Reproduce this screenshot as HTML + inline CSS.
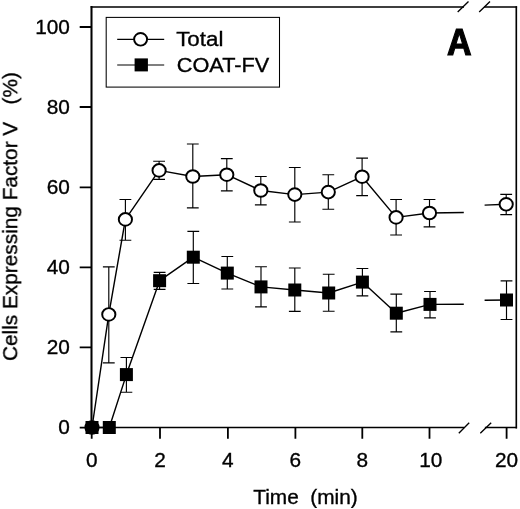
<!DOCTYPE html>
<html lang="en">
<head>
<meta charset="utf-8">
<title>Cells Expressing Factor V over Time</title>
<style>
html,body{margin:0;padding:0;background:#fff;}
body{width:520px;height:509px;overflow:hidden;}
svg{display:block;}
text{font-family:"Liberation Sans",Arial,Helvetica,sans-serif;fill:#000;stroke:#000;stroke-width:0.35px;}
.lbl{font-size:20.8px;white-space:pre;}
</style>
</head>
<body>
<svg width="520" height="509" viewBox="0 0 520 509">
<rect x="0" y="0" width="520" height="509" fill="#ffffff"/>
<defs><filter id="soft" x="0" y="0" width="520" height="509" filterUnits="userSpaceOnUse"><feGaussianBlur stdDeviation="0.32"/></filter></defs>
<g filter="url(#soft)">

<g fill="none" stroke="#000" stroke-linecap="square">
<path stroke-width="1.6" d="M91.5 7H463.2M485 7H516.3"/>
<path stroke-width="1.5" d="M91.5 427.6H463.6M485.6 427.6H516.3"/>
<path stroke-width="2.05" d="M91.5 7V427.6"/>
<path stroke-width="1.65" d="M516.3 7V427.6"/>
</g>
<g fill="none" stroke="#000" stroke-width="1.35">
<path d="M457.7 12L468.5 1.5M479.2 12L490 1.5"/>
<path d="M458.8 433.2L469.2 422.8M480.3 433.2L491.2 422.8"/>
</g>
<g fill="none" stroke="#000" stroke-width="1.8">
<path d="M79.7 27.0H91.5M79.7 107.0H91.5M79.7 187.3H91.5M79.7 267.3H91.5M79.7 347.4H91.5M79.7 427.6H91.5M91.7 427.6V438.8M160.0 427.6V438.8M227.9 427.6V438.8M295.4 427.6V438.8M362.3 427.6V438.8M429.5 427.6V438.8M506.6 427.6V438.8"/>
</g>
<g class="lbl" text-anchor="end">
<text x="69.9" y="33.65">100</text>
<text x="69.9" y="113.65">80</text>
<text x="69.9" y="193.95">60</text>
<text x="69.9" y="273.95">40</text>
<text x="69.9" y="354.05">20</text>
<text x="69.9" y="434.25">0</text>
</g>
<g class="lbl" text-anchor="middle">
<text x="91.7" y="467.25">0</text>
<text x="160.0" y="467.25">2</text>
<text x="227.9" y="467.25">4</text>
<text x="295.4" y="467.25">6</text>
<text x="362.3" y="467.25">8</text>
<text x="430.8" y="467.25">10</text>
<text x="506.6" y="467.25">20</text>
</g>
<text class="lbl" x="253.3" y="503.6" xml:space="preserve">Time  (min)</text>
<text class="lbl" transform="translate(17.2 361) rotate(-90)" x="0" y="0" font-size="20.7" xml:space="preserve">Cells Expressing Factor V   (%)</text>
<text transform="translate(447 55.4) scale(0.94 1)" style="font-size:36.2px;font-weight:bold;stroke-width:1.2px;stroke-linejoin:miter">A</text>
<rect x="106.2" y="17.4" width="173.3" height="69.7" fill="#fff" stroke="#000" stroke-width="1.05"/>
<g stroke="#000" stroke-width="1.15" fill="none"><path d="M117.2 39.3H164.2M117.2 65H164.2"/></g>
<ellipse cx="140.6" cy="39.3" rx="6.5" ry="6.3" fill="#fff" stroke="#000" stroke-width="1.95"/>
<rect x="134.6" y="58.4" width="13.3" height="13" fill="#000"/>
<text class="lbl" transform="translate(176.2 46.4) scale(1.075 1)">Total</text>
<text class="lbl" transform="translate(176.8 72.1) scale(1.044 1)">COAT-FV</text>
<g fill="none" stroke="#000" stroke-width="1.15">

<path d="M108.8 266.9V362.9M102.9 266.9H114.7M102.9 362.9H114.7"/>
<path d="M125.4 199.5V240.2M119.5 199.5H131.3M119.5 240.2H131.3"/>
<path d="M159.1 161.2V179.3M153.2 161.2H165.0M153.2 179.3H165.0"/>
<path d="M192.8 144.0V207.9M186.9 144.0H198.7M186.9 207.9H198.7"/>
<path d="M226.8 158.6V190.8M220.9 158.6H232.7M220.9 190.8H232.7"/>
<path d="M260.8 176.5V204.8M254.9 176.5H266.7M254.9 204.8H266.7"/>
<path d="M294.8 167.5V222.0M288.9 167.5H300.7M288.9 222.0H300.7"/>
<path d="M328.3 174.7V209.2M322.4 174.7H334.2M322.4 209.2H334.2"/>
<path d="M362.1 158.1V195.6M356.2 158.1H368.0M356.2 195.6H368.0"/>
<path d="M396.1 199.5V235.0M390.2 199.5H402.0M390.2 235.0H402.0"/>
<path d="M429.5 199.5V226.8M423.6 199.5H435.4M423.6 226.8H435.4"/>
<path d="M506.2 194.3V214.6M500.3 194.3H512.1M500.3 214.6H512.1"/>


<path d="M126.4 357.5V392.2M120.5 357.5H132.3M120.5 392.2H132.3"/>
<path d="M159.6 272.3V289.4M153.7 272.3H165.5M153.7 289.4H165.5"/>
<path d="M193.3 231.3V283.5M187.4 231.3H199.2M187.4 283.5H199.2"/>
<path d="M227.3 256.5V289.0M221.4 256.5H233.2M221.4 289.0H233.2"/>
<path d="M261.0 266.7V306.8M255.1 266.7H266.9M255.1 306.8H266.9"/>
<path d="M294.8 268.0V311.4M288.9 268.0H300.7M288.9 311.4H300.7"/>
<path d="M328.7 274.2V311.2M322.8 274.2H334.6M322.8 311.2H334.6"/>
<path d="M362.4 268.5V295.9M356.5 268.5H368.3M356.5 295.9H368.3"/>
<path d="M396.3 294.1V331.9M390.4 294.1H402.2M390.4 331.9H402.2"/>
<path d="M430.0 291.5V317.8M424.1 291.5H435.9M424.1 317.8H435.9"/>
<path d="M506.5 280.8V319.5M500.6 280.8H512.4M500.6 319.5H512.4"/>
</g>
<g fill="none" stroke="#000" stroke-width="1.42" stroke-linejoin="round">
<path d="M92.0 427.5 L108.8 314.4 L125.4 219.4 L159.1 170.4 L192.8 176.5 L226.8 174.7 L260.8 190.5 L294.8 194.6 L328.3 192.1 L362.1 176.7 L396.1 217.4 L429.5 213.0 L463.8 212.5M484.6 205.1L506.2 204.3"/>
<path d="M92.0 427.5 L109.3 427.5 L126.4 374.6 L159.6 280.7 L193.3 257.2 L227.3 273.1 L261.0 286.9 L294.8 290.0 L328.7 293.0 L362.4 282.1 L396.3 313.2 L430.0 304.4 L463.8 304.2M484.6 300.3L506.5 300.0"/>
</g>
<g fill="#fff" stroke="#000" stroke-width="1.95">
<ellipse cx="92.0" cy="427.5" rx="6.6" ry="6.3"/>
<ellipse cx="108.8" cy="314.4" rx="6.6" ry="6.3"/>
<ellipse cx="125.4" cy="219.4" rx="6.6" ry="6.3"/>
<ellipse cx="159.1" cy="170.4" rx="6.6" ry="6.3"/>
<ellipse cx="192.8" cy="176.5" rx="6.6" ry="6.3"/>
<ellipse cx="226.8" cy="174.7" rx="6.6" ry="6.3"/>
<ellipse cx="260.8" cy="190.5" rx="6.6" ry="6.3"/>
<ellipse cx="294.8" cy="194.6" rx="6.6" ry="6.3"/>
<ellipse cx="328.3" cy="192.1" rx="6.6" ry="6.3"/>
<ellipse cx="362.1" cy="176.7" rx="6.6" ry="6.3"/>
<ellipse cx="396.1" cy="217.4" rx="6.6" ry="6.3"/>
<ellipse cx="429.5" cy="213.0" rx="6.6" ry="6.3"/>
<ellipse cx="506.2" cy="204.3" rx="6.6" ry="6.3"/>
</g>
<g fill="#000">
<rect x="85.5" y="421.0" width="13.0" height="13.0"/>
<rect x="102.8" y="421.0" width="13.0" height="13.0"/>
<rect x="119.9" y="368.1" width="13.0" height="13.0"/>
<rect x="153.1" y="274.2" width="13.0" height="13.0"/>
<rect x="186.8" y="250.7" width="13.0" height="13.0"/>
<rect x="220.8" y="266.6" width="13.0" height="13.0"/>
<rect x="254.5" y="280.4" width="13.0" height="13.0"/>
<rect x="288.3" y="283.5" width="13.0" height="13.0"/>
<rect x="322.2" y="286.5" width="13.0" height="13.0"/>
<rect x="355.9" y="275.6" width="13.0" height="13.0"/>
<rect x="389.8" y="306.7" width="13.0" height="13.0"/>
<rect x="423.5" y="297.9" width="13.0" height="13.0"/>
<rect x="500.0" y="293.5" width="13.0" height="13.0"/>
</g>
</g>
</svg>
</body>
</html>
